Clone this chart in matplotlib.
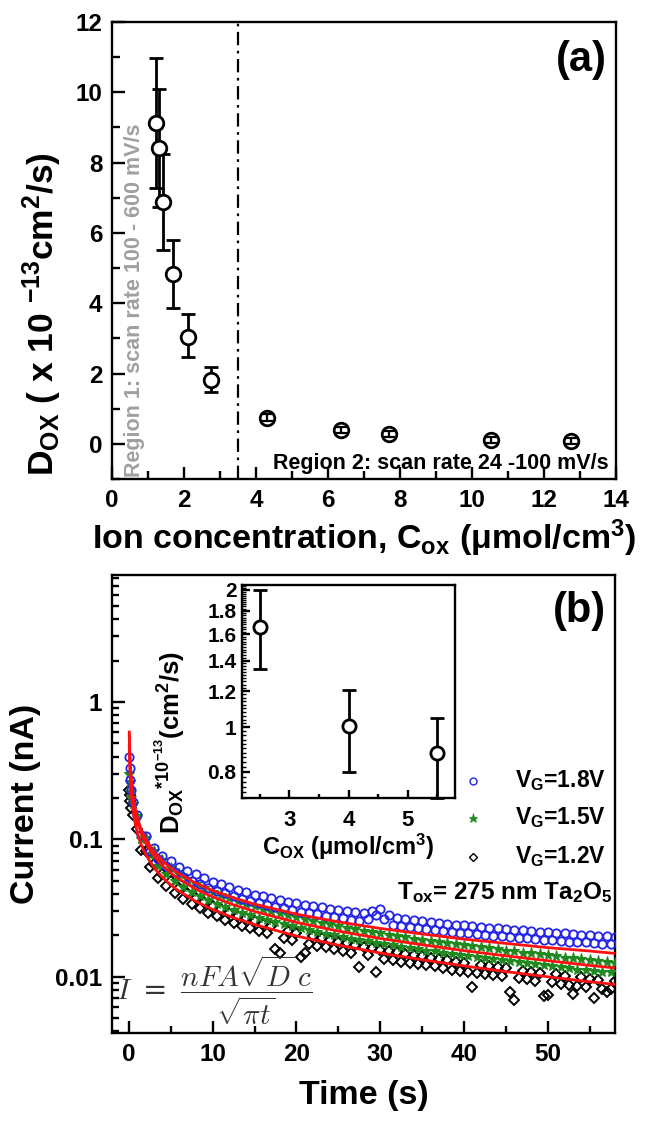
import numpy as np
import matplotlib
matplotlib.use("Agg")
import matplotlib.pyplot as plt
from matplotlib.ticker import FixedLocator, MultipleLocator, LogLocator, NullFormatter, FixedFormatter

plt.rcParams["font.family"] = ["Liberation Sans", "DejaVu Sans"]
plt.rcParams["font.weight"] = "bold"
plt.rcParams["axes.labelweight"] = "bold"
plt.rcParams["mathtext.default"] = "regular"
plt.rcParams["axes.linewidth"] = 1.7

# ── (a) diffusion coefficient vs ion concentration ───────────────────────────
c_ox   = [1.22, 1.30, 1.43, 1.70, 2.10, 2.75, 4.31, 6.36, 7.69, 10.53, 12.75]
d_ox   = [9.13, 8.42, 6.88, 4.82, 3.05, 1.83, 0.74, 0.39, 0.28, 0.11, 0.08]
d_lo   = [1.85, 1.68, 1.38, 0.96, 0.59, 0.36, 0.10, 0.08, 0.08, 0.08, 0.08]
d_hi   = [1.85, 1.67, 1.37, 0.97, 0.63, 0.35, 0.10, 0.08, 0.08, 0.08, 0.08]
region_split = 3.5

# ── (b) inset ────────────────────────────────────────────────────────────────
in_c   = [2.5, 4.0, 5.5]
in_d   = [1.66, 1.005, 0.878]
in_lo  = [0.32, 0.205, 0.178]
in_hi  = [0.34, 0.205, 0.172]

# ── (b) current transients, sampled every 0.5 s after the first few points ──
t_early = [0.05, 0.1, 0.2, 0.3]
t_main  = np.arange(0.5, 58.01, 0.5)
i_18_early = [0.40, 0.33, 0.27, 0.23]
i_15_early = [0.30, 0.26, 0.22, 0.20]
i_12_early = [0.23, 0.21, 0.19, 0.17]
i_18 = [
    0.188, 0.150, 0.108, 0.105, 0.083, 0.087, 0.0715, 0.076, 0.064, 0.0695,
    0.0583, 0.0631, 0.0536, 0.0589, 0.0498, 0.0556, 0.047, 0.0524, 0.0442, 0.0492,
    0.0423, 0.0471, 0.0404, 0.0449, 0.0385, 0.0428, 0.0371, 0.0417, 0.0357, 0.0396,
    0.0343, 0.0385, 0.0334, 0.0375, 0.0324, 0.0364, 0.0315, 0.0353, 0.0306, 0.0342,
    0.0298, 0.0335, 0.0291, 0.0328, 0.0285, 0.0321, 0.0278, 0.0314, 0.0273, 0.0307,
    0.0267, 0.0301, 0.0261, 0.0294, 0.0256, 0.0289, 0.0265, 0.0300, 0.0280, 0.0310,
    0.0262, 0.0283, 0.0238, 0.0268, 0.0233, 0.0263, 0.0229, 0.0257, 0.0225, 0.0254,
    0.0221, 0.0252, 0.0218, 0.0246, 0.0215, 0.0243, 0.0212, 0.0240, 0.0210, 0.0238,
    0.0207, 0.0234, 0.0204, 0.0231, 0.0202, 0.0228, 0.0199, 0.0226, 0.0197, 0.0223,
    0.0195, 0.0220, 0.0193, 0.0218, 0.0191, 0.0216, 0.0188, 0.0213, 0.0186, 0.0211,
    0.0184, 0.0209, 0.0182, 0.0207, 0.0180, 0.0204, 0.0180, 0.0203, 0.0178, 0.0201,
    0.0176, 0.0199, 0.0174, 0.0197, 0.0173, 0.0196,
]
i_15 = [
    0.180, 0.148, 0.101, 0.102, 0.077, 0.0825, 0.064, 0.0704, 0.0557, 0.0621,
    0.0497, 0.0560, 0.0452, 0.0512, 0.0416, 0.0474, 0.0386, 0.0443, 0.0362, 0.0416,
    0.0341, 0.0393, 0.0323, 0.0373, 0.0307, 0.0355, 0.0293, 0.0340, 0.0281, 0.0326,
    0.0270, 0.0313, 0.0259, 0.0301, 0.0249, 0.0290, 0.0241, 0.0280, 0.0233, 0.0271,
    0.0225, 0.0263, 0.0218, 0.0255, 0.0213, 0.0247, 0.0206, 0.0241, 0.0201, 0.0234,
    0.0195, 0.0228, 0.0190, 0.0222, 0.0186, 0.0217, 0.0181, 0.0211, 0.0177, 0.0207,
    0.0173, 0.0203, 0.0169, 0.0198, 0.0166, 0.0194, 0.0162, 0.0190, 0.0159, 0.0186,
    0.0155, 0.0183, 0.0153, 0.0180, 0.0150, 0.0177, 0.0147, 0.0173, 0.0144, 0.0169,
    0.0142, 0.0167, 0.0140, 0.0164, 0.0137, 0.0161, 0.0135, 0.0159, 0.0132, 0.0155,
    0.0130, 0.0153, 0.0128, 0.0150, 0.0126, 0.0148, 0.0124, 0.0146, 0.0122, 0.0143,
    0.0120, 0.0141, 0.0118, 0.0138, 0.0116, 0.0136, 0.0113, 0.0134, 0.0112, 0.0132,
    0.0110, 0.0130, 0.0109, 0.0128, 0.0108, 0.0126,
]
i_12 = [
    0.150, 0.120, 0.084, 0.083, 0.0634, 0.0660, 0.0525, 0.0562, 0.0456, 0.0495,
    0.0407, 0.0445, 0.0369, 0.0407, 0.0339, 0.0375, 0.0315, 0.0350, 0.0293, 0.0328,
    0.0276, 0.0310, 0.0261, 0.0293, 0.0247, 0.0279, 0.0236, 0.0266, 0.0225, 0.0254,
    0.0216, 0.0244, 0.0207, 0.0234, 0.0160, 0.0150, 0.0192, 0.0217, 0.0185, 0.0210,
    0.0140, 0.0148, 0.0174, 0.0197, 0.0168, 0.0191, 0.0164, 0.0186, 0.0159, 0.0180,
    0.0155, 0.0175, 0.0150, 0.0171, 0.0117, 0.0166, 0.0143, 0.0162, 0.0108, 0.0158,
    0.0135, 0.0154, 0.0132, 0.0151, 0.0129, 0.0147, 0.0126, 0.0144, 0.0123, 0.0141,
    0.0121, 0.0138, 0.0119, 0.0135, 0.0116, 0.0133, 0.0113, 0.0129, 0.0111, 0.0127,
    0.0109, 0.0084, 0.0107, 0.0122, 0.0105, 0.0120, 0.0103, 0.0118, 0.0101, 0.0116,
    0.0078, 0.0068, 0.0098, 0.0111, 0.0096, 0.0109, 0.0094, 0.0107, 0.0072, 0.0074,
    0.0091, 0.0104, 0.0089, 0.0102, 0.0087, 0.0075, 0.0086, 0.0099, 0.0085, 0.0096,
    0.0070, 0.0095, 0.0082, 0.0077, 0.0081, 0.0093,
]

# red Cottrell fits
t_fit = [0.06, 0.1, 0.15, 0.2, 0.3, 0.5, 0.75, 1, 1.5, 2, 3, 4, 5, 6, 8, 10,
         12.5, 15, 20, 25, 30, 35, 40, 45, 50, 55, 58]
fit_18 = [0.605, 0.468, 0.381, 0.330, 0.268, 0.207, 0.168, 0.145, 0.117, 0.101,
          0.0815, 0.0700, 0.0621, 0.0562, 0.0481, 0.0425, 0.0375, 0.0338, 0.0286,
          0.0251, 0.0225, 0.0205, 0.0188, 0.0175, 0.0163, 0.0154, 0.0148]
fit_15 = [0.579, 0.447, 0.363, 0.314, 0.255, 0.196, 0.158, 0.136, 0.110, 0.0943,
          0.0757, 0.0646, 0.0570, 0.0514, 0.0435, 0.0382, 0.0334, 0.0299, 0.0249,
          0.0215, 0.0190, 0.0171, 0.0155, 0.0142, 0.0131, 0.0121, 0.0116]
fit_12 = [0.483, 0.372, 0.303, 0.261, 0.212, 0.163, 0.132, 0.113, 0.091, 0.0779,
          0.0623, 0.0530, 0.0467, 0.0420, 0.0354, 0.0309, 0.0269, 0.0240, 0.0198,
          0.0170, 0.0149, 0.0133, 0.0120, 0.0109, 0.0100, 0.0092, 0.0088]

legend_labels = [r"V$_{G}$=1.8V", r"V$_{G}$=1.5V", r"V$_{G}$=1.2V"]

W, H = 647, 1125
fig = plt.figure(figsize=(W / 100, H / 100), dpi=100)

def _rect(l, t, r, b):
    return [l / W, 1 - b / H, (r - l) / W, (b - t) / H]

def _style(ax, maj=9, mnr=6):
    ax.tick_params(which="both", direction="in", top=False, right=False, width=1.7)
    ax.tick_params(which="major", length=maj)
    ax.tick_params(which="minor", length=mnr)

# ── panel (a) ────────────────────────────────────────────────────────────────
ax1 = fig.add_axes(_rect(112, 22, 616, 479))
_style(ax1)
big = slice(0, 6)
small = slice(6, None)
ax1.errorbar(c_ox[big], d_ox[big], yerr=[d_lo[big], d_hi[big]], fmt="o", ms=10.5,
             mfc="white", mec="black", mew=2, ecolor="black", elinewidth=2,
             capsize=5, capthick=2, zorder=3)
ax1.plot(c_ox[small], d_ox[small], "o", ms=10.5, mfc="white", mec="black", mew=2, zorder=3)
ax1.errorbar(c_ox[small], d_ox[small], yerr=[d_lo[small], d_hi[small]], fmt="none",
             ecolor="black", elinewidth=1.6, capsize=4, capthick=1.6, zorder=4)
ax1.axvline(region_split, color="black", lw=1.6, ls=(0, (6, 2.5, 1.2, 2.5)))
ax1.set_xlim(0, 14)
ax1.set_ylim(-1, 12)
ax1.xaxis.set_major_locator(MultipleLocator(2))
ax1.xaxis.set_minor_locator(MultipleLocator(1))
ax1.yaxis.set_major_locator(MultipleLocator(2))
ax1.yaxis.set_minor_locator(MultipleLocator(1))
ax1.tick_params(labelsize=17.5, pad=7)
ax1.set_xlabel(r"Ion concentration, C$_{ox}$ (μmol/cm$^{3}$)", fontsize=24.5, labelpad=4)
ax1.set_ylabel(r"D$_{OX}$ ( x 10 $^{-13}$cm$^{2}$/s)", fontsize=25.5)
ax1.yaxis.set_label_coords(-0.095, 0.36)
ax1.text(0.982, 0.917, "(a)", transform=ax1.transAxes, fontsize=30, ha="right", va="center")
ax1.text(0.62, -0.93, "Region 1: scan rate 100 - 600 mV/s", rotation=90, color="#a0a0a0",
         fontsize=15.5, ha="center", va="bottom")
ax1.text(13.8, -0.55, "Region 2: scan rate 24 -100 mV/s", fontsize=15.5, ha="right", va="center")

# ── panel (b) ────────────────────────────────────────────────────────────────
ax2 = fig.add_axes(_rect(112, 575, 615, 1033))
_style(ax2, maj=9, mnr=5)
ax2.set_yscale("log")
t_all = np.concatenate([t_early, t_main])
ax2.plot(t_all, i_12_early + i_12, "D", ms=5.2, mfc="none", mec="black", mew=1.4, zorder=2)
ax2.plot(t_all, i_15_early + i_15, "*", ms=8, mfc="#1f8a1f", mec="#1f8a1f", mew=0.8, zorder=3)
ax2.plot(t_all, i_18_early + i_18, "o", ms=6, mfc="none", mec="#2424e8", mew=1.3, zorder=4)
for fit in (fit_18, fit_15, fit_12):
    ax2.plot(t_fit, fit, color="#ff1010", lw=2.0, zorder=5)
ax2.set_xlim(-2, 58)
ax2.set_ylim(0.0039, 8.4)
ax2.xaxis.set_major_locator(MultipleLocator(10))
ax2.xaxis.set_minor_locator(MultipleLocator(5))
ax2.yaxis.set_major_locator(FixedLocator([0.01, 0.1, 1]))
ax2.yaxis.set_major_formatter(FixedFormatter(["0.01", "0.1", "1"]))
ax2.yaxis.set_minor_locator(LogLocator(base=10, subs=np.arange(2, 10)))
ax2.yaxis.set_minor_formatter(NullFormatter())
ax2.tick_params(labelsize=17.5, pad=7)
ax2.set_xlabel("Time (s)", fontsize=24.5, labelpad=10)
ax2.set_ylabel("Current (nA)", fontsize=24.5, labelpad=10)
ax2.text(0.982, 0.921, "(b)", transform=ax2.transAxes, fontsize=30, ha="right", va="center")

# legend built from markers + text
leg_y = [781, 818, 857]
leg_mk = [dict(marker="o", ms=5, mfc="none", mec="#2424e8", mew=1.0),
          dict(marker="*", ms=6.5, mfc="#1f8a1f", mec="#1f8a1f", mew=0.5),
          dict(marker="D", ms=4.2, mfc="none", mec="black", mew=1.0)]
for yy, mk, lab in zip(leg_y, leg_mk, legend_labels):
    fy = 1 - yy / H
    fig.lines.append(plt.Line2D([473 / W], [fy], transform=fig.transFigure, ls="none", **mk))
    fig.text(606 / W, fy, lab, fontsize=16.5, ha="right", va="center")
fig.text(612 / W, 1 - 893 / H, r"T$_{ox}$= 275 nm Ta$_{2}$O$_{5}$", fontsize=17.5,
         ha="right", va="center")

ax2.text(0.008, 0.094,
         r"$\mathit{I}\ =\ \dfrac{\mathit{nFA}\sqrt{\mathit{D}}\,\mathit{c}}{\sqrt{\mathit{\pi}\mathit{t}}}$",
         transform=ax2.transAxes, fontsize=21, family="DejaVu Serif", fontweight="normal",
         math_fontfamily="cm", color="#333333", ha="left", va="center", zorder=6)

# ── inset ────────────────────────────────────────────────────────────────────
axin = fig.add_axes(_rect(242, 585, 455, 798))
_style(axin, maj=6, mnr=3)
axin.set_yscale("log")
axin.errorbar(in_c, in_d, yerr=[in_lo, in_hi], fmt="o", ms=9.5, mfc="white", mec="black",
              mew=2, ecolor="black", elinewidth=2, capsize=5, capthick=2, clip_on=False)
axin.set_xlim(2.2, 5.8)
axin.set_ylim(0.7, 2.05)
axin.xaxis.set_major_locator(FixedLocator([3, 4, 5]))
axin.xaxis.set_minor_locator(FixedLocator([2.5, 3.5, 4.5, 5.5]))
y_major = [0.8, 1.0, 1.2, 1.4, 1.6, 1.8, 2.0]
axin.yaxis.set_major_locator(FixedLocator(y_major))
axin.yaxis.set_major_formatter(FixedFormatter(["0.8", "1", "1.2", "1.4", "1.6", "1.8", "2"]))
axin.yaxis.set_minor_locator(FixedLocator(np.arange(0.70, 2.05, 0.02)))
axin.yaxis.set_minor_formatter(NullFormatter())
axin.tick_params(axis="y", labelsize=15, pad=4)
axin.tick_params(axis="x", labelsize=16, pad=9)
axin.tick_params(axis="y", which="minor", width=1.0)
axin.set_xlabel(r"C$_{OX}$ (μmol/cm$^{3}$)", fontsize=17, labelpad=0)
axin.set_ylabel(r"D$_{OX}$$^{*10^{-13}}$(cm$^{2}$/s)", fontsize=18.5)
axin.yaxis.set_label_coords(-0.26, 0.26)

fig.savefig("out.png", dpi=100)
